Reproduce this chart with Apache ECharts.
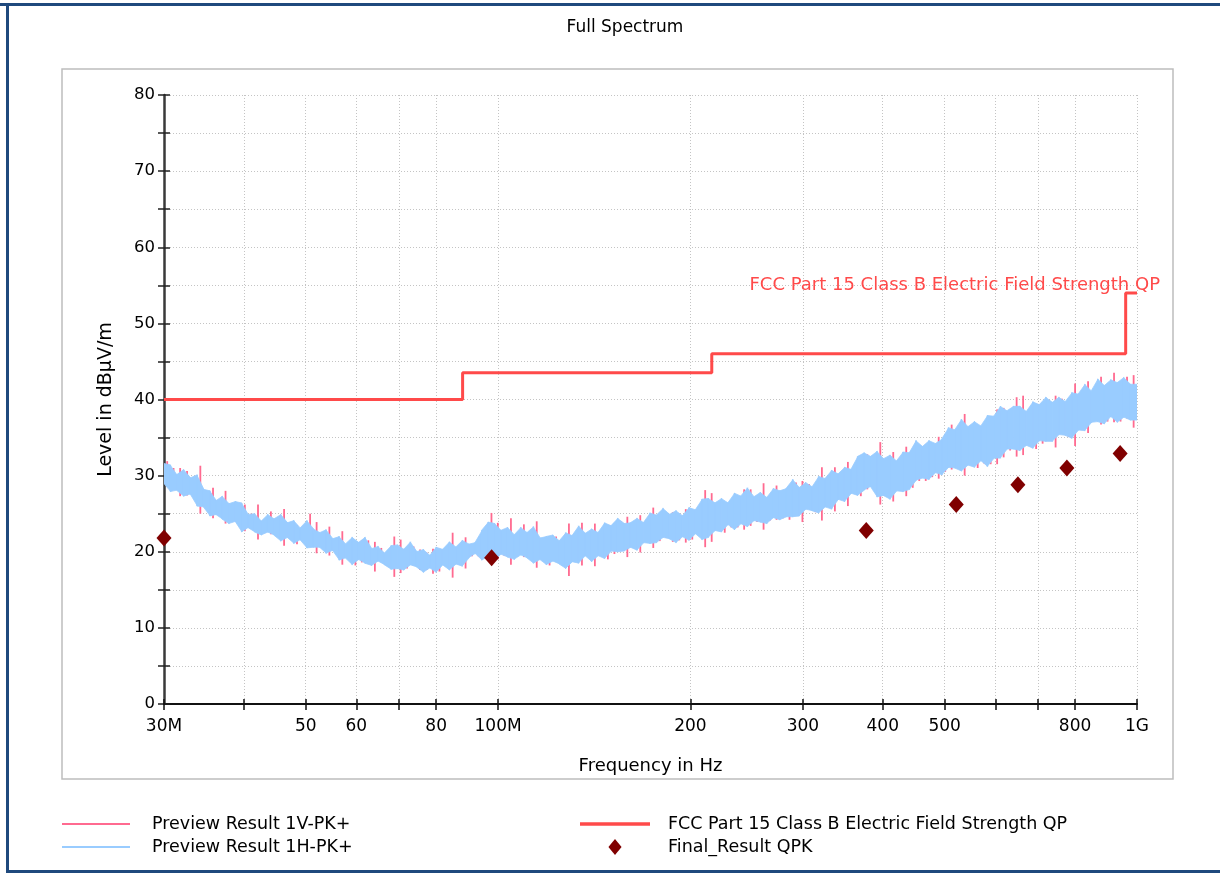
<!DOCTYPE html>
<html>
<head>
<meta charset="utf-8">
<script src="https://cdn.jsdelivr.net/npm/echarts@6/dist/echarts.min.js"></script>
<style>
html, body { margin: 0; padding: 0; background: #fff; }
#chart { width: 1220px; height: 875px; }
</style>
</head>
<body>
<div id="chart"></div>
<script>
// Sweep bins (MHz, left edge of each bin); the last bin ends at 1 GHz
const freqMHz = [
  30,30.7,31.4,32.2,33,33.8,34.6,35.4,36.2,37,
  37.9,38.8,39.7,40.6,41.6,42.6,43.6,44.6,45.7,46.8,
  47.9,49,50.2,51.4,52.6,53.8,55.1,56.4,57.7,59.1,
  60.5,61.9,63.4,64.9,66.4,68,69.6,71.2,72.9,74.6,
  76.4,78.2,80,81.9,83.9,85.9,87.9,90,92.1,94.3,
  96.5,98.8,101,103.5,106,108.5,111,113.6,116.3,119,
  121.8,124.7,127.6,130.6,133.7,136.9,140.1,143.4,146.8,150.3,
  153.9,157.5,161.2,165,168.9,172.9,177,181.2,185.5,189.9,
  194.4,199,203.7,208.5,213.4,218.5,223.7,229,234.4,239.9,
  245.6,251.4,257.3,263.4,269.6,276,282.5,289.2,296,303,
  310.2,317.5,325,332.7,340.6,348.7,356.9,365.3,374,382.8,
  391.9,401.1,410.6,420.3,430.3,440.5,450.9,461.6,472.5,483.7,
  495.1,506.8,518.8,531.1,543.7,556.6,569.8,583.3,597.1,611.2,
  625.7,640.5,655.7,671.2,687.1,703.4,720,737.1,754.5,772.4,
  790.7,809.4,828.6,848.2,868.3,888.8,909.9,931.4,953.5,976
];
const binEndMHz = 1000;

// Preview Result 1H-PK+ : max / min level per bin (dBµV/m)
const h1Hi = [
  31.6,31.4,30.1,30.8,29.7,30.1,28.2,28.0,26.7,27.3,
  26.3,26.6,26.4,24.9,25.0,24.0,24.9,24.3,24.9,23.8,
  24.1,23.1,24.1,23.0,22.5,22.9,21.7,22.0,21.0,21.9,
  21.2,21.9,20.4,20.7,19.8,20.8,20.9,20.3,21.3,20.0,
  20.3,19.5,20.6,20.3,21.3,20.6,21.5,21.0,21.2,22.8,
  23.9,23.7,22.8,23.2,22.2,23.2,22.5,23.3,21.8,22.0,
  22.2,21.4,22.5,22.1,23.4,22.4,23.0,22.5,23.8,23.4,
  24.4,23.7,23.8,24.4,23.8,25.1,24.8,25.7,24.9,25.4,
  24.7,25.8,25.5,26.9,27.0,26.4,27.0,26.4,27.7,27.3,
  28.4,27.2,27.8,27.1,28.3,28.0,28.3,29.5,28.4,29.1,
  28.5,29.9,29.6,30.7,30.2,31.1,30.8,32.5,33.0,32.5,
  33.2,32.2,32.7,31.9,33.1,33.0,34.6,33.8,34.6,34.2,
  34.8,36.3,36.0,37.4,36.4,37.1,36.5,37.9,37.8,39.1,
  38.5,39.1,39.1,38.4,39.7,39.3,40.3,39.6,40.3,39.7,
  40.9,40.7,42.0,41.1,42.7,41.8,42.6,42.2,42.9,42.0
];
const h1Lo = [
  29.0,27.9,28.1,27.3,27.6,26.0,25.9,24.7,24.9,24.3,
  23.7,24.0,22.6,23.2,22.6,22.2,22.6,22.2,21.4,21.9,
  21.1,21.6,20.5,20.6,20.6,19.8,20.2,18.9,19.2,18.3,
  19.0,18.5,18.2,18.8,18.3,17.7,17.8,17.6,18.3,18.0,
  17.3,17.9,17.3,18.3,17.6,18.4,18.1,19.2,19.8,18.9,
  19.4,18.9,19.7,19.3,19.0,19.6,19.2,18.5,19.0,18.3,
  18.8,18.4,17.8,18.7,18.5,19.5,18.7,19.5,19.1,20.1,
  20.0,20.1,20.6,20.2,21.2,21.1,21.2,21.9,21.7,21.2,
  22.0,21.5,22.4,21.6,21.9,22.8,22.6,23.6,22.9,23.7,
  23.3,24.1,23.9,23.7,24.5,24.2,24.6,24.6,24.7,25.6,
  25.4,25.1,25.9,25.6,26.9,26.6,27.7,27.4,28.1,28.6,
  27.2,27.4,26.9,28.0,27.9,28.2,29.4,29.7,29.5,30.4,
  30.1,31.1,31.0,30.6,31.4,31.1,32.0,31.2,32.3,32.3,
  33.5,33.5,33.3,34.0,33.6,34.6,34.5,34.5,35.4,35.3,
  34.9,36.0,35.9,37.0,37.1,36.8,37.8,37.0,37.7,37.3
];

// Preview Result 1V-PK+ : max / min level per bin (dBµV/m)
const v1Hi = [
  31.9,31.0,31.0,30.6,29.8,31.3,27.7,28.4,26.4,28.0,
  26.3,26.0,26.2,25.0,26.2,23.5,25.3,24.0,25.6,23.8,
  23.5,23.4,25.0,23.9,22.0,23.3,21.4,22.7,21.0,21.3,
  21.5,21.5,21.3,20.5,19.9,22.0,21.6,20.3,20.7,20.3,
  19.9,20.4,20.4,20.4,22.5,20.1,21.9,20.7,21.5,22.4,
  25.1,23.8,22.9,24.4,21.7,23.6,22.2,24.0,21.8,21.4,
  22.0,21.5,23.7,21.6,23.8,22.1,23.7,22.5,23.2,23.7,
  24.0,24.6,23.3,24.8,23.5,25.8,24.8,25.1,25.2,25.0,
  25.6,25.6,25.6,28.1,27.7,26.4,26.4,26.7,27.3,28.2,
  28.2,27.3,29.0,26.6,28.7,27.7,28.6,29.1,29.3,28.9,
  28.6,31.1,29.1,31.1,29.9,31.8,30.8,31.9,32.8,32.6,
  34.4,31.7,33.1,31.6,33.8,33.0,34.0,34.1,34.2,35.1,
  34.3,36.7,35.7,38.1,36.4,36.5,36.8,37.5,38.7,38.9,
  38.6,40.3,40.5,38.4,39.1,39.6,39.9,40.5,40.1,39.8,
  42.1,40.2,42.4,40.8,43.0,41.4,43.5,42.0,43.0,43.2
];
const v1Lo = [
  28.6,28.2,27.3,27.4,27.4,25.0,26.3,24.4,25.1,23.7,
  23.9,23.9,22.7,23.0,21.6,22.6,22.3,22.4,20.8,22.1,
  21.0,21.2,20.8,19.8,21.0,19.5,20.4,18.3,19.4,18.2,
  18.6,18.8,17.4,18.9,18.1,16.7,17.2,17.8,18.2,17.6,
  17.6,17.1,17.4,18.1,16.6,18.8,17.8,19.4,19.4,19.2,
  18.6,19.0,19.5,18.3,19.4,19.3,19.4,17.9,19.2,18.2,
  18.9,18.2,16.8,19.1,18.2,19.7,18.1,19.7,19.0,19.7,
  20.3,19.3,21.0,19.9,21.4,20.5,21.4,21.8,21.3,21.5,
  21.2,21.6,22.2,20.6,21.3,23.0,22.5,23.2,23.2,22.9,
  23.4,23.9,22.9,24.1,24.2,24.4,24.2,24.9,23.9,25.7,
  25.2,24.1,26.3,25.3,27.1,26.0,27.9,27.3,28.2,28.4,
  26.2,27.8,26.6,28.2,27.3,28.4,29.3,29.3,29.8,29.6,
  30.5,30.8,31.2,30.0,31.6,31.0,31.6,31.5,31.5,32.4,
  33.3,32.5,32.7,34.2,33.5,34.2,34.8,33.7,35.5,35.1,
  33.9,36.4,35.6,37.2,36.7,37.1,37.0,37.1,37.5,36.3
];

// FCC Part 15 Class B limit (QP), stepped
const limitFreq  = [30, 88, 88, 216, 216, 960, 960, 1000];
const limitLevel = [40, 40, 43.5, 43.5, 46, 46, 54, 54];

// Final quasi-peak measurements
const qpkFreq  = [30, 97.7, 376.9, 521.3, 651, 776.7, 941];
const qpkLevel = [21.8, 19.2, 22.8, 26.2, 28.8, 31.0, 32.9];

// Frequency axis ticks and labels (MHz)
const xTickValues  = [30, 40, 50, 60, 70, 80, 100, 200, 300, 400, 500, 600, 700, 800, 1000];
const xLabelValues = [30, 50, 60, 80, 100, 200, 300, 400, 500, 800, 1000];
const xLabelText   = ['30M', '50', '60', '80', '100M', '200', '300', '400', '500', '800', '1G'];

const limitName = 'FCC Part 15 Class B Electric Field Strength QP';
const FONT = 'DejaVu Sans';

// [f, fNext, lo, hi, loNext, hiNext] per bin
function toBins(hi, lo) {
  const n = freqMHz.length;
  return freqMHz.map((f, i) => {
    const j = i + 1 < n ? i + 1 : i;
    return [f, i + 1 < n ? freqMHz[i + 1] : binEndMHz, lo[i], hi[i], lo[j], hi[j]];
  });
}

// Thin spike from a bin's min to its max level
function spikeRenderer(params, api) {
  const top = api.coord([api.value(0), api.value(3)]);
  const bot = api.coord([api.value(1), api.value(2)]);
  const xc = (top[0] + bot[0]) / 2;
  return {
    type: 'rect',
    shape: { x: xc - 0.9, y: top[1], width: 1.8, height: bot[1] - top[1] },
    style: { fill: api.visual('color') }
  };
}

// Band segment joining one bin's min/max span to the next
function bandRenderer(params, api) {
  const a1 = api.coord([api.value(0), api.value(3)]);
  const a0 = api.coord([api.value(0), api.value(2)]);
  const b1 = api.coord([api.value(1), api.value(5)]);
  const b0 = api.coord([api.value(1), api.value(4)]);
  return {
    type: 'polygon',
    shape: { points: [[a1[0] - 0.3, a1[1]], [b1[0] + 0.3, b1[1]], [b0[0] + 0.3, b0[1]], [a0[0] - 0.3, a0[1]]] },
    style: { fill: api.visual('color'), stroke: api.visual('color'), lineWidth: 0.8 }
  };
}

const gridLine = { show: true, lineStyle: { color: '#c4c4c4', type: [1, 2], width: 1 } };

const chart = echarts.init(document.getElementById('chart'), null, { renderer: 'canvas' });
chart.setOption({
  backgroundColor: '#fff',
  animation: false,
  textStyle: { fontFamily: FONT },
  title: {
    text: 'Full Spectrum',
    left: 620, top: 14, textAlign: 'center',
    textStyle: { fontFamily: FONT, fontSize: 17, fontWeight: 'normal', color: '#000' }
  },
  graphic: [
    { type: 'rect', shape: { x: 62, y: 69, width: 1111, height: 710 }, style: { fill: 'none', stroke: '#bdbdbd', lineWidth: 1.5 }, z: -10 },
    { type: 'line', shape: { x1: 0, y1: 4.5, x2: 1220, y2: 4.5 }, style: { stroke: '#1f497d', lineWidth: 3 } },
    { type: 'line', shape: { x1: 7.5, y1: 3, x2: 7.5, y2: 873 }, style: { stroke: '#1f497d', lineWidth: 3 } },
    { type: 'line', shape: { x1: 6, y1: 871.5, x2: 1220, y2: 871.5 }, style: { stroke: '#1f497d', lineWidth: 3 } }
  ],
  legend: [
    {
      left: 62, top: 815, orient: 'vertical', padding: 0,
      itemWidth: 68, itemHeight: 16, itemGap: 5,
      textStyle: { fontFamily: FONT, fontSize: 17.5, color: '#000', padding: [0, 0, 0, 17] },
      data: [
        { name: 'Preview Result 1V-PK+', icon: 'path://M0 0H68V2H0Z' },
        { name: 'Preview Result 1H-PK+', icon: 'path://M0 0H68V2H0Z' }
      ]
    },
    {
      left: 580, top: 815, orient: 'vertical', padding: 0,
      itemWidth: 70, itemHeight: 16, itemGap: 5,
      textStyle: { fontFamily: FONT, fontSize: 17.5, color: '#000', padding: [0, 0, 0, 13] },
      data: [
        { name: limitName, icon: 'path://M0 0H70V3.5H0Z' },
        { name: 'Final_Result QPK', icon: 'path://M7 0L14 8.5L7 17L0 8.5Z' }
      ]
    }
  ],
  grid: { left: 164, right: 83, top: 95, bottom: 171, containLabel: false },
  xAxis: [
    {
      type: 'log', logBase: 10, min: 30, max: 1000,
      name: 'Frequency in Hz', nameLocation: 'middle', nameGap: 53,
      nameTextStyle: { fontFamily: FONT, fontSize: 18, color: '#000' },
      axisLine: { show: true, onZero: false, lineStyle: { color: '#111', width: 2 } },
      axisTick: { show: true, length: 6, customValues: xTickValues, lineStyle: { color: '#111', width: 1.5 } },
      axisLabel: {
        show: true, margin: 14, customValues: xLabelValues,
        fontFamily: FONT, fontSize: 17, color: '#000',
        formatter: function (v) {
          const i = xLabelValues.findIndex(t => Math.abs(t - v) < 1e-6);
          return i >= 0 ? xLabelText[i] : '';
        }
      },
      splitLine: gridLine,
      minorTick: { show: false }
    },
    {
      type: 'log', logBase: 10, min: 30, max: 1000, position: 'bottom',
      axisLine: { show: false },
      axisTick: { show: true, inside: true, length: 5, customValues: xTickValues, lineStyle: { color: '#111', width: 1.5 } },
      axisLabel: { show: false },
      splitLine: { show: false }
    }
  ],
  yAxis: [
    {
      type: 'value', min: 0, max: 80, interval: 10,
      name: 'Level in dBµV/m', nameLocation: 'middle', nameGap: 48, nameRotate: 90,
      nameTextStyle: { fontFamily: FONT, fontSize: 19, color: '#000' },
      axisLine: { show: true, onZero: false, lineStyle: { color: '#3a3a3a', width: 2.5 } },
      axisTick: { show: true, length: 6, lineStyle: { color: '#222', width: 1.5 } },
      minorTick: { show: true, splitNumber: 2, length: 6, lineStyle: { color: '#222', width: 1.5 } },
      axisLabel: { margin: 9, fontFamily: FONT, fontSize: 16.5, color: '#000' },
      splitLine: gridLine,
      minorSplitLine: gridLine
    },
    {
      type: 'value', min: 0, max: 80, interval: 10, position: 'left',
      axisLine: { show: false },
      axisTick: { show: true, inside: true, length: 6, lineStyle: { color: '#222', width: 1.5 } },
      minorTick: { show: true, splitNumber: 2, length: 6, lineStyle: { color: '#222', width: 1.5 } },
      axisLabel: { show: false },
      splitLine: { show: false }
    }
  ],
  series: [
    {
      name: 'Preview Result 1V-PK+',
      type: 'custom',
      xAxisIndex: 0, yAxisIndex: 0,
      renderItem: spikeRenderer,
      itemStyle: { color: '#ff6a90' },
      encode: { x: [0, 1], y: [2, 3] },
      clip: true,
      z: 2,
      data: toBins(v1Hi, v1Lo)
    },
    {
      name: 'Preview Result 1H-PK+',
      type: 'custom',
      xAxisIndex: 0, yAxisIndex: 0,
      renderItem: bandRenderer,
      itemStyle: { color: '#99ccff' },
      encode: { x: [0, 1], y: [2, 3] },
      clip: true,
      z: 3,
      data: toBins(h1Hi, h1Lo)
    },
    {
      name: limitName,
      type: 'line',
      xAxisIndex: 0, yAxisIndex: 0,
      symbol: 'none',
      lineStyle: { color: '#ff4a4a', width: 3 },
      itemStyle: { color: '#ff4a4a' },
      z: 4,
      endLabel: {
        show: true,
        formatter: limitName,
        fontFamily: FONT, fontSize: 18, color: '#ff4a4a',
        align: 'right', verticalAlign: 'bottom',
        offset: [23, 1], distance: 0
      },
      data: limitFreq.map((f, i) => [f, limitLevel[i]])
    },
    {
      name: 'Final_Result QPK',
      type: 'scatter',
      xAxisIndex: 0, yAxisIndex: 0,
      symbol: 'diamond',
      symbolSize: [15, 17],
      itemStyle: { color: '#800000', opacity: 1 },
      z: 5,
      data: qpkFreq.map((f, i) => [f, qpkLevel[i]])
    }
  ]
});
</script>
</body>
</html>
